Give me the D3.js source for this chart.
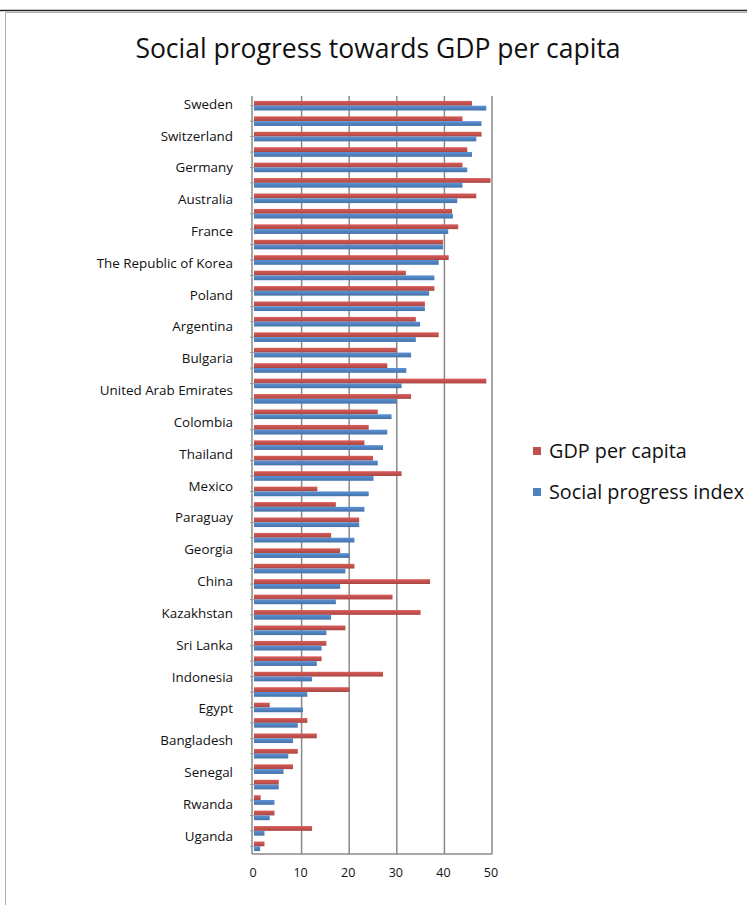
<!DOCTYPE html>
<html>
<head>
<meta charset="utf-8">
<script src="https://cdn.jsdelivr.net/npm/d3@7"></script>
<style>
  html, body { margin: 0; padding: 0; background: #fff; }
  svg { display: block; }
  text { font-family: "Open Sans", "Noto Sans", sans-serif; fill: #111; }
</style>
</head>
<body>
<svg id="chart" width="747" height="905"></svg>
<script>
// ---- Data (top to bottom, 49 categories; every other one is labelled) ----
const tickLabels = ["Sweden", "Switzerland", "Germany", "Australia", "France",
  "The Republic of Korea", "Poland", "Argentina", "Bulgaria", "United Arab Emirates",
  "Colombia", "Thailand", "Mexico", "Paraguay", "Georgia", "China", "Kazakhstan",
  "Sri Lanka", "Indonesia", "Egypt", "Bangladesh", "Senegal", "Rwanda", "Uganda"];

const gdpPerCapita = [45.8, 43.8, 47.8, 44.8, 43.8, 49.7, 46.7, 41.6, 42.9, 39.7,
  40.9, 31.9, 37.9, 35.9, 34.0, 38.8, 30.0, 28.0, 48.8, 33.0,
  26.0, 24.1, 23.2, 25.0, 31.0, 13.3, 17.2, 22.1, 16.2, 18.1,
  21.1, 37.0, 29.1, 35.0, 19.2, 15.2, 14.2, 27.1, 20.1, 3.3,
  11.2, 13.2, 9.2, 8.2, 5.2, 1.4, 4.3, 12.2, 2.2];

const socialProgress = [48.8, 47.8, 46.7, 45.8, 44.8, 43.8, 42.7, 41.8, 40.8, 39.7,
  38.8, 37.9, 36.8, 35.9, 34.9, 34.0, 33.0, 32.0, 31.0, 30.0,
  28.9, 28.0, 27.1, 26.0, 25.1, 24.1, 23.2, 22.1, 21.1, 20.1,
  19.2, 18.1, 17.2, 16.2, 15.2, 14.2, 13.2, 12.2, 11.2, 10.3,
  9.2, 8.2, 7.2, 6.2, 5.2, 4.3, 3.3, 2.2, 1.3];

const seriesNames = ["GDP per capita", "Social progress index"];
const seriesColors = ["#C0504D", "#4F81BD"];
const xTicks = [0, 10, 20, 30, 40, 50];
const title = "Social progress towards GDP per capita";

// ---- Build ----
const svg = d3.select("#chart");

// frame
svg.append("line").attr("x1", 0).attr("x2", 747).attr("y1", 10.5).attr("y2", 10.5)
  .attr("stroke", "#222").attr("stroke-width", 1.5);
svg.append("rect").attr("x", 5.5).attr("y", 12.5).attr("width", 800).attr("height", 900)
  .attr("fill", "none").attr("stroke", "#b0b0b0");

svg.append("text").attr("x", 378).attr("y", 58).attr("text-anchor", "middle")
  .style("font-size", "26.5px").text(title);

const catIdx = d3.range(gdpPerCapita.length);
const plotTop = 98, plotBottom = 854;

const x = d3.scaleLinear().domain([0, 50]).range([254, 492]);
const y0 = d3.scaleBand().domain(catIdx).range([plotTop, plotBottom])
  .paddingInner(0.38).paddingOuter(0.19);
const y1 = d3.scaleBand().domain(seriesNames).range([0, y0.bandwidth()]);
const yLab = d3.scalePoint().domain(tickLabels).range([104, 836]);

// gradients for slight 3D look
const defs = svg.append("defs");
seriesColors.forEach((c, i) => {
  const g = defs.append("linearGradient").attr("id", "g" + i)
    .attr("x1", 0).attr("x2", 0).attr("y1", 0).attr("y2", 1);
  g.append("stop").attr("offset", "0%").attr("stop-color", d3.color(c).brighter(0.35));
  g.append("stop").attr("offset", "100%").attr("stop-color", d3.color(c).darker(0.35));
});

// gridlines
svg.append("g").selectAll("line").data(xTicks.slice(1)).join("line")
  .attr("x1", d => x(d)).attr("x2", d => x(d))
  .attr("y1", plotTop - 2).attr("y2", plotBottom)
  .attr("stroke", "#8a8a8a").attr("stroke-width", 1.5);

// floor and wall
svg.append("line").attr("x1", x(0) - 2).attr("x2", x(50)).attr("y1", plotBottom).attr("y2", plotBottom)
  .attr("stroke", "#8a8a8a").attr("stroke-width", 1.5);
svg.append("line").attr("x1", x(0) - 2).attr("x2", x(0) - 2).attr("y1", plotTop - 2).attr("y2", plotBottom)
  .attr("stroke", "#8a8a8a").attr("stroke-width", 1.5);
// wall ticks
svg.append("g").selectAll("line").data(catIdx).join("line")
  .attr("x1", x(0) - 4).attr("x2", x(0))
  .attr("y1", d => y0(d) + y0.bandwidth() / 2).attr("y2", d => y0(d) + y0.bandwidth() / 2)
  .attr("stroke", "#9a9a9a").attr("stroke-width", 1);

// bars
const rows = catIdx.map(i => [gdpPerCapita[i], socialProgress[i]]);
const grp = svg.append("g").selectAll("g").data(rows).join("g")
  .attr("transform", (d, i) => `translate(0,${y0(i)})`);
grp.selectAll("rect").data(d => d.map((v, k) => ({ v, k }))).join("rect")
  .attr("x", x(0))
  .attr("y", d => y1(seriesNames[d.k]))
  .attr("height", y1.bandwidth())
  .attr("width", d => x(d.v) - x(0))
  .attr("fill", d => `url(#g${d.k})`);

// category labels
svg.append("g").selectAll("text").data(tickLabels).join("text")
  .attr("x", 233).attr("y", d => yLab(d)).attr("dy", "0.35em")
  .attr("text-anchor", "end").style("font-size", "13.4px").text(d => d);

// x tick labels
svg.append("g").selectAll("text").data(xTicks).join("text")
  .attr("x", d => x(d) - 1).attr("y", 877).attr("text-anchor", "middle")
  .style("font-size", "12.5px").text(d => d);

// legend
const leg = svg.append("g").selectAll("g").data(seriesNames).join("g")
  .attr("transform", (d, i) => `translate(533,${451 + i * 41})`);
leg.append("rect").attr("x", 0).attr("y", -4).attr("width", 8).attr("height", 8)
  .attr("fill", (d, i) => seriesColors[i]);
leg.append("text").attr("x", 16).attr("dy", "0.35em").style("font-size", "19.8px").text(d => d);
</script>
</body>
</html>
